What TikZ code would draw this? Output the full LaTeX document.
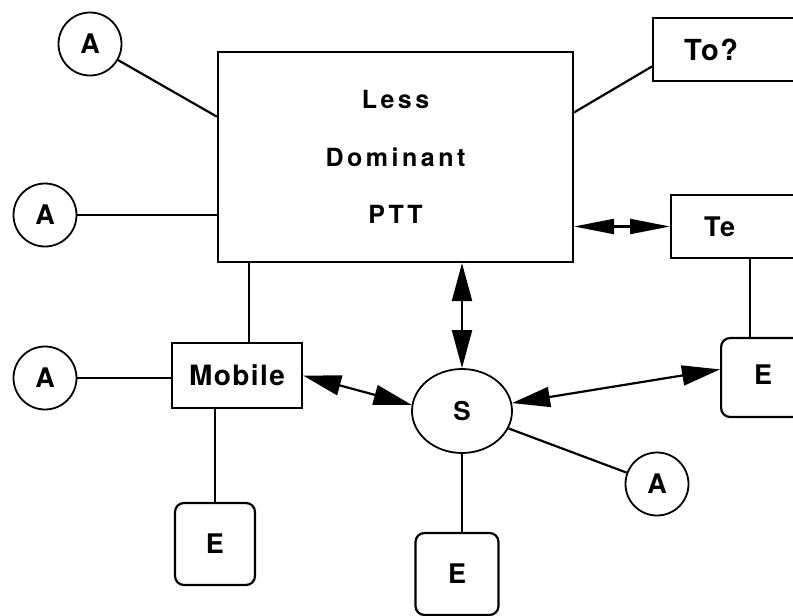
\documentclass[tikz,border=0pt]{standalone}
\usepackage{fontspec}
\setmainfont{TeX Gyre Heros}
\newfontfamily\widefont{TeX Gyre Heros}[LetterSpace=14]
\newfontfamily\labelfont{TeX Gyre Heros}[LetterSpace=5]
\usetikzlibrary{shapes.geometric,arrows.meta,calc}

\begin{document}
\begin{tikzpicture}[x=1pt,y=-1pt,
  line width=2.2pt,
  box/.style={draw, rectangle, inner sep=0pt},
  sidebox/.style={draw, rectangle, anchor=west, minimum width=180pt,
    inner ysep=0pt, align=left},
  term/.style={draw, circle, minimum size=63pt, inner sep=0pt, line width=1.8pt,
    font=\labelfont\bfseries\fontsize{27}{30}\selectfont},
  ebox/.style={draw, rectangle, rounded corners=9pt, inner sep=0pt,
    font=\labelfont\bfseries\fontsize{27}{30}\selectfont},
  both/.style={{Triangle[length=38pt,width=20pt]}-{Triangle[length=38pt,width=20pt]}}
]
\useasboundingbox (0,0) rectangle (793,616);
\clip (0,0) rectangle (793,616);

% central exchange
\node[box, minimum width=355pt, minimum height=210pt, align=center,
  font=\widefont\bfseries\fontsize{25}{57.5}\selectfont] (PTT) at (395.5,157)
  {Less\\Dominant\\PTT};

% subscriber terminals
\node[term] (A1) at (90,44) {A};
\node[term] (A2) at (45,215) {A};
\node[term] (A3) at (45,378) {A};
\node[term] (A4) at (657,484) {A};

% mobile network and switch
\node[box, minimum width=130pt, minimum height=65pt,
  font=\labelfont\bfseries\fontsize{28}{30}\selectfont] (Mobile) at (237,375.5) {Mobile};
\node[draw, ellipse, minimum width=100pt, minimum height=84pt, inner sep=0pt,
  line width=1.8pt, font=\labelfont\bfseries\fontsize{26}{30}\selectfont] (S) at (462,411) {S};

% end equipment
\node[ebox, minimum width=80pt, minimum height=82pt] (E1) at (215,544) {E};
\node[ebox, minimum width=83pt, minimum height=82pt] (E3) at (457,574) {E};
\node[ebox, anchor=west, minimum width=180pt, minimum height=79pt,
  text width=114pt, inner xsep=33pt, align=left] (E2) at (720,377.5) {\raisebox{5pt}{E}};

% boxes running off the right edge
\node[sidebox, minimum height=63pt, text width=118pt, inner xsep=31pt,
  font=\labelfont\bfseries\fontsize{29}{30}\selectfont] (To) at (652,49.5) {To?};
\node[sidebox, minimum height=63pt, text width=114pt, inner xsep=33pt,
  font=\labelfont\bfseries\fontsize{27}{30}\selectfont] (Te) at (670,226.5) {Te};

% connections
\draw (A1) -- ($(PTT.north west)!0.31!(PTT.south west)$);
\draw (A2) -- (A2 -| PTT.west);
\draw ($(PTT.north east)!0.29!(PTT.south east)$) -- ($(To.north west)!0.76!(To.south west)$);
\draw[{Triangle[length=40pt,width=15pt]}-{Triangle[length=40pt,width=15pt]}]
  (Te.west -| PTT.east) -- (Te.west);
\coordinate (drop) at ($(PTT.south west)+(32,0)$);
\draw[line width=1.7pt] (drop) -- (drop |- Mobile.north);
\draw[both] (S.north |- PTT.south) -- (S.north);
\draw[line width=1.7pt] (A3) -- (A3 -| Mobile.west);
\draw[line width=1.7pt] (E1.north) -- (E1.north |- Mobile.south);
\draw[both] (Mobile.east) -- (S.173);
\draw[both] (S.9) -- ($(E2.north west)!0.4!(E2.south west)$);
\draw (S) -- (A4);
\draw[line width=1.7pt] (S.south) -- (S.south |- E3.north);
\draw[line width=1.7pt] ($(Te.south west)+(80,0)$) -- ($(E2.north west)+(30,0)$);
\end{tikzpicture}
\end{document}
